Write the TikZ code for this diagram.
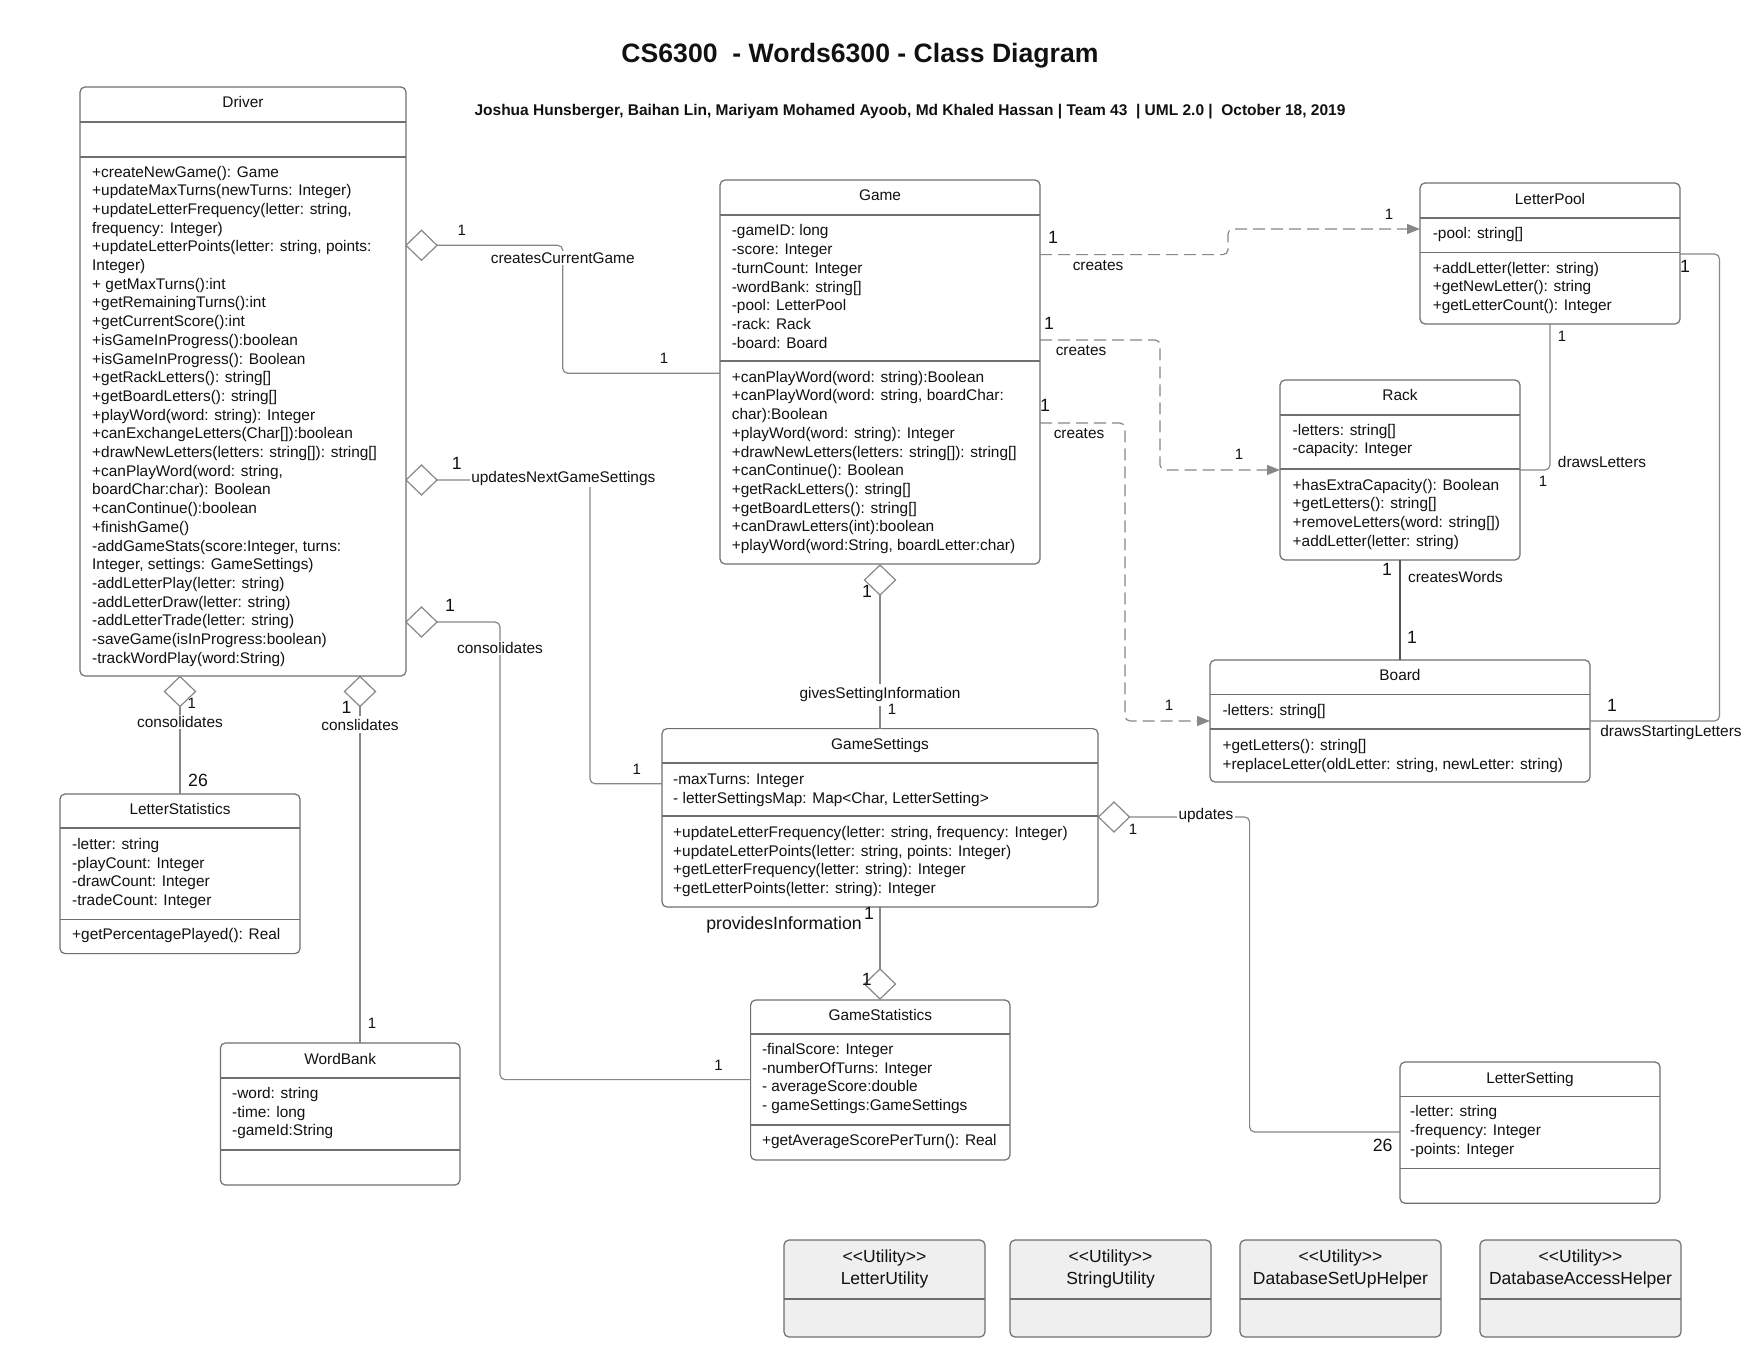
\documentclass[tikz,border=0pt]{standalone}
\usepackage{fontspec}
\setmainfont{Liberation Sans}
\usetikzlibrary{shapes.geometric,arrows.meta}
\definecolor{boxc}{HTML}{6F6F6F}
\definecolor{linec}{HTML}{878787}
\definecolor{thickc}{HTML}{555555}
\definecolor{utilfill}{HTML}{EFEFEF}
\definecolor{txtc}{HTML}{111111}
\begin{document}
\begin{tikzpicture}[x=1pt,y=-1pt,
  cls/.style={draw=boxc, line width=1.2pt, rounded corners=5pt, fill=white, inner sep=0pt, outer sep=0pt, anchor=north west},
  util/.style={cls, fill=utilfill},
  divl/.style={draw=boxc, line width=1.2pt},
  ttl/.style={font=\fontsize{15.4}{18.7}\selectfont, anchor=base, inner sep=0pt, text=txtc},
  body/.style={font=\fontsize{15.4}{18.7}\selectfont, anchor=north west, align=left, inner sep=0pt, text=txtc},
  utxt/.style={font=\fontsize{17.5}{22}\selectfont, anchor=north, align=center, inner sep=0pt, text=txtc},
  conn/.style={draw=linec, line width=1.2pt, rounded corners=5pt},
  dep/.style={conn, dash pattern=on 12pt off 6pt, -{Triangle[length=13pt,width=10pt]}},
  agg/.style={shape=diamond, draw=linec, line width=1.2pt, fill=white, minimum width=31pt, minimum height=30pt, inner sep=0pt, outer sep=0pt},
  lab/.style={font=\fontsize{15.4}{18.7}\selectfont, inner sep=1.5pt, text=txtc},
  labw/.style={lab, fill=white},
  mult/.style={font=\fontsize{15}{18}\selectfont, inner sep=0pt, text=txtc},
  multb/.style={font=\fontsize{17.7}{21}\selectfont, inner sep=0pt, text=txtc}
]
\fill[white] (0,0) rectangle (1760,1360);
\useasboundingbox (0,0) rectangle (1760,1360);

% titles
\node[font=\fontsize{26.6}{30}\selectfont\bfseries, inner sep=0pt, text=txtc] (title) at (860,56) {CS6300~ - Words6300 - Class Diagram};
\node[font=\fontsize{15.5}{18}\selectfont\bfseries, inner sep=0pt, text=txtc] (subtitle) at (910,112) {Joshua Hunsberger, Baihan Lin, Mariyam Mohamed Ayoob, Md Khaled Hassan | Team 43~ | UML 2.0 |~ October 18, 2019};

% Driver
\node[cls, minimum width=326pt, minimum height=589pt] (driver) at (80,87) {};
\draw[divl] (driver.west |- 0,122) -- (driver.east |- 0,122);
\draw[divl] (driver.west |- 0,157) -- (driver.east |- 0,157);
\node[ttl] (driver-t) at (243,107.8) {Driver};
\node[body] (driver-m) at (92,163.7) {\strut+createNewGame(): Game\\+updateMaxTurns(newTurns: Integer)\\+updateLetterFrequency(letter: string,\\frequency: Integer)\\+updateLetterPoints(letter: string, points:\\Integer)\\+ getMaxTurns():int\\+getRemainingTurns():int\\+getCurrentScore():int\\+isGameInProgress():boolean\\+isGameInProgress(): Boolean\\+getRackLetters(): string[]\\+getBoardLetters(): string[]\\+playWord(word: string): Integer\\+canExchangeLetters(Char[]):boolean\\+drawNewLetters(letters: string[]): string[]\\+canPlayWord(word: string,\\boardChar:char): Boolean\\+canContinue():boolean\\+finishGame()\\-addGameStats(score:Integer, turns:\\Integer, settings: GameSettings)\\-addLetterPlay(letter: string)\\-addLetterDraw(letter: string)\\-addLetterTrade(letter: string)\\-saveGame(isInProgress:boolean)\\-trackWordPlay(word:String)};

% Game
\node[cls, minimum width=320pt, minimum height=384pt] (game) at (720,180) {};
\draw[divl] (game.west |- 0,215) -- (game.east |- 0,215);
\draw[divl] (game.west |- 0,361) -- (game.east |- 0,361);
\node[ttl] (game-t) at (880,200.9) {Game};
\node[body] (game-a) at (731.6,222.7) {\strut-gameID: long\\-score: Integer\\-turnCount: Integer\\-wordBank: string[]\\-pool: LetterPool\\-rack: Rack\\-board: Board};
\node[body] (game-m) at (731.6,369) {\strut+canPlayWord(word: string):Boolean\\+canPlayWord(word: string, boardChar:\\char):Boolean\\+playWord(word: string): Integer\\+drawNewLetters(letters: string[]): string[]\\+canContinue(): Boolean\\+getRackLetters(): string[]\\+getBoardLetters(): string[]\\+canDrawLetters(int):boolean\\+playWord(word:String, boardLetter:char)};

% LetterPool
\node[cls, minimum width=260pt, minimum height=141pt] (letterpool) at (1420,183) {};
\draw[divl] (letterpool.west |- 0,218) -- (letterpool.east |- 0,218);
\draw[divl] (letterpool.west |- 0,252.5) -- (letterpool.east |- 0,252.5);
\node[ttl] (letterpool-t) at (1550,204.1) {LetterPool};
\node[body] (letterpool-a) at (1432.6,225) {\strut-pool: string[]};
\node[body] (letterpool-m) at (1432.6,260) {\strut+addLetter(letter: string)\\+getNewLetter(): string\\+getLetterCount(): Integer};

% Rack
\node[cls, minimum width=240pt, minimum height=180pt] (rack) at (1280,380) {};
\draw[divl] (rack.west |- 0,415) -- (rack.east |- 0,415);
\draw[divl] (rack.west |- 0,469) -- (rack.east |- 0,469);
\node[ttl] (rack-t) at (1400,400.8) {Rack};
\node[body] (rack-a) at (1292.5,422) {\strut-letters: string[]\\-capacity: Integer};
\node[body] (rack-m) at (1292.5,477) {\strut+hasExtraCapacity(): Boolean\\+getLetters(): string[]\\+removeLetters(word: string[])\\+addLetter(letter: string)};

% Board
\node[cls, minimum width=380pt, minimum height=122pt] (board) at (1210,660) {};
\draw[divl] (board.west |- 0,694.5) -- (board.east |- 0,694.5);
\draw[divl] (board.west |- 0,729) -- (board.east |- 0,729);
\node[ttl] (board-t) at (1400,680.8) {Board};
\node[body] (board-a) at (1222.3,702) {\strut-letters: string[]};
\node[body] (board-m) at (1222.3,737) {\strut+getLetters(): string[]\\+replaceLetter(oldLetter: string, newLetter: string)};

% GameSettings
\node[cls, minimum width=436pt, minimum height=178.4pt] (gamesettings) at (662,728.6) {};
\draw[divl] (gamesettings.west |- 0,763) -- (gamesettings.east |- 0,763);
\draw[divl] (gamesettings.west |- 0,816) -- (gamesettings.east |- 0,816);
\node[ttl] (gamesettings-t) at (880,749.5) {GameSettings};
\node[body] (gamesettings-a) at (673,771) {\strut-maxTurns: Integer\\- letterSettingsMap: Map<Char, LetterSetting>};
\node[body] (gamesettings-m) at (673,824) {\strut+updateLetterFrequency(letter: string, frequency: Integer)\\+updateLetterPoints(letter: string, points: Integer)\\+getLetterFrequency(letter: string): Integer\\+getLetterPoints(letter: string): Integer};

% GameStatistics
\node[cls, minimum width=259.4pt, minimum height=160pt] (gamestats) at (750.6,1000) {};
\draw[divl] (gamestats.west |- 0,1034) -- (gamestats.east |- 0,1034);
\draw[divl] (gamestats.west |- 0,1125) -- (gamestats.east |- 0,1125);
\node[ttl] (gamestats-t) at (880.3,1020.5) {GameStatistics};
\node[body] (gamestats-a) at (761.8,1041) {\strut-finalScore: Integer\\-numberOfTurns: Integer\\- averageScore:double\\- gameSettings:GameSettings};
\node[body] (gamestats-m) at (761.8,1132) {\strut+getAverageScorePerTurn(): Real};

% LetterStatistics
\node[cls, minimum width=240pt, minimum height=159.6pt] (lstats) at (60,794) {};
\draw[divl] (lstats.west |- 0,828) -- (lstats.east |- 0,828);
\draw[divl] (lstats.west |- 0,919.6) -- (lstats.east |- 0,919.6);
\node[ttl] (lstats-t) at (180,814.8) {LetterStatistics};
\node[body] (lstats-a) at (72,836) {\strut-letter: string\\-playCount: Integer\\-drawCount: Integer\\-tradeCount: Integer};
\node[body] (lstats-m) at (72,926.6) {\strut+getPercentagePlayed(): Real};

% WordBank
\node[cls, minimum width=239.6pt, minimum height=142pt] (wordbank) at (220.4,1043) {};
\draw[divl] (wordbank.west |- 0,1078) -- (wordbank.east |- 0,1078);
\draw[divl] (wordbank.west |- 0,1150) -- (wordbank.east |- 0,1150);
\node[ttl] (wordbank-t) at (340.2,1064.1) {WordBank};
\node[body] (wordbank-a) at (232,1085) {\strut-word: string\\-time: long\\-gameId:String};

% LetterSetting
\node[cls, minimum width=260pt, minimum height=141.3pt] (lsetting) at (1400,1062) {};
\draw[divl] (lsetting.west |- 0,1096.3) -- (lsetting.east |- 0,1096.3);
\draw[divl] (lsetting.west |- 0,1168.3) -- (lsetting.east |- 0,1168.3);
\node[ttl] (lsetting-t) at (1530,1083.2) {LetterSetting};
\node[body] (lsetting-a) at (1410,1103.3) {\strut-letter: string\\-frequency: Integer\\-points: Integer};

% Utility classes
\node[util, minimum width=201pt, minimum height=97pt] (u1) at (784,1240) {};
\node[util, minimum width=201pt, minimum height=97pt] (u2) at (1010,1240) {};
\node[util, minimum width=201pt, minimum height=97pt] (u3) at (1240,1240) {};
\node[util, minimum width=201pt, minimum height=97pt] (u4) at (1480,1240) {};
\foreach \u in {u1,u2,u3,u4}{\draw[divl] (\u.west |- 0,1299) -- (\u.east |- 0,1299);}
\node[utxt] (u1-t) at (884.5,1247.3) {\strut<{}<Utility>{}>\\LetterUtility};
\node[utxt] (u2-t) at (1110.5,1247.3) {\strut<{}<Utility>{}>\\StringUtility};
\node[utxt] (u3-t) at (1340.5,1247.3) {\strut<{}<Utility>{}>\\DatabaseSetUpHelper};
\node[utxt] (u4-t) at (1580.5,1247.3) {\strut<{}<Utility>{}>\\DatabaseAccessHelper};

% aggregation diamonds
\node[agg] (dA) at (421.5,245.3) {};
\node[agg] (dB) at (421.5,480) {};
\node[agg] (dC) at (421.5,622) {};
\node[agg] (dD) at (180,691.5) {};
\node[agg] (dE) at (360,691.5) {};
\node[agg] (dF) at (880,580) {};
\node[agg] (dG) at (880,984) {};
\node[agg] (dH) at (1114,817) {};

% connectors
\draw[conn] (dA.east) -- (562.7,245.3) -- (562.7,373.3) -- (game.west |- 0,373.3);
\draw[conn] (dB.east) -- (590,480) -- (590,783.7) -- (gamesettings.west |- 0,783.7);
\draw[conn] (dC.east) -- (500,622) -- (500,1079.6) -- (gamestats.west |- 0,1079.6);
\draw[conn] (dD.south) -- (lstats.north);
\draw[conn] (dE.south) -- (dE.south |- wordbank.north);
\draw[conn] (dF.south) -- (gamesettings.north);
\draw[conn] (gamesettings.south) -- (dG.north);
\draw[conn] (dH.east) -- (1249.6,817) -- (1249.6,1132) -- (lsetting.west |- 0,1132);
\draw[dep] (game.east |- 0,254.6) -- (1228,254.6) -- (1228,229) -- (letterpool.west |- 0,229);
\draw[dep] (game.east |- 0,340) -- (1160,340) -- (1160,470) -- (rack.west |- 0,470);
\draw[dep] (game.east |- 0,423) -- (1125,423) -- (1125,721) -- (board.west |- 0,721);
\draw[conn] (letterpool.south -| 1550,0) -- (1550,470) -- (rack.east |- 0,470);
\draw[conn] (letterpool.east |- 0,254) -- (1719.5,254) -- (1719.5,721) -- (board.east |- 0,721);
\draw[draw=thickc, line width=2.2pt] (rack.south) -- (board.north);

% connector labels
\node[labw] (lA) at (562.7,257.7) {createsCurrentGame};
\node[labw] (lB) at (563.3,478.7) {updatesNextGameSettings};
\node[labw] (lC) at (500,647.7) {consolidates};
\node[labw] (lD) at (180,721.8) {consolidates};
\node[labw, inner ysep=3pt] (lE) at (360,724.6) {conslidates};
\node[labw, inner ysep=4pt] (lF) at (880,694.7) {givesSettingInformation};
\node[multb] (lG) at (784,924.5) {providesInformation};
\node[labw] (lH) at (1206,816) {updates};
\node[lab] (lI) at (1098,266) {creates};
\node[lab] (lJ) at (1081,351) {creates};
\node[lab] (lK) at (1079,434) {creates};
\node[lab] (lL) at (1602,462) {drawsLetters};
\node[lab] (lM) at (1671,733) {drawsStartingLetters};
\node[lab] (lN) at (1455.5,577) {createsWords};

% multiplicities
\node[mult] (mA1) at (461.7,230.7) {1};
\node[mult] (mA2) at (664,358) {1};
\node[multb] (mB1) at (456.7,463.3) {1};
\node[mult] (mB2) at (636.8,769) {1};
\node[multb] (mC1) at (450,605) {1};
\node[mult] (mC2) at (718.5,1065) {1};
\node[mult] (mD1) at (191.9,703) {1};
\node[multb] (mD2) at (198,780) {26};
\node[multb] (mE1) at (346.5,707.5) {1};
\node[mult] (mE2) at (372,1023) {1};
\node[multb] (mF1) at (867,591.4) {1};
\node[mult] (mF2) at (892,709) {1};
\node[multb] (mG1) at (869,913) {1};
\node[multb] (mG2) at (866.7,979) {1};
\node[mult] (mH1) at (1133,829.4) {1};
\node[multb] (mH2) at (1382.7,1145.3) {26};
\node[multb] (mI1) at (1053,237) {1};
\node[mult] (mI2) at (1389,214) {1};
\node[multb] (mJ1) at (1049,323) {1};
\node[mult] (mJ2) at (1239,454) {1};
\node[multb] (mK1) at (1045,405) {1};
\node[mult] (mK2) at (1169,705) {1};
\node[mult] (mL1) at (1562,336.5) {1};
\node[mult] (mL2) at (1543,481) {1};
\node[multb] (mM1) at (1685,266) {1};
\node[multb] (mM2) at (1612,705) {1};
\node[multb] (mN1) at (1387,569) {1};
\node[multb] (mN2) at (1412,637) {1};
\end{tikzpicture}
\end{document}
